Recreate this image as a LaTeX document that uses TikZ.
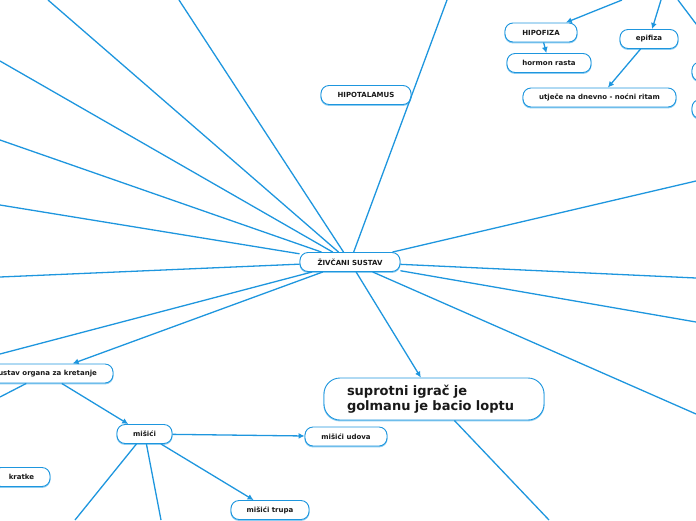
\documentclass[tikz,border=0pt]{standalone}
\usepackage{fontspec}
\setmainfont{DejaVu Sans}
\usetikzlibrary{arrows.meta}
\definecolor{mapblau}{RGB}{30,150,222}
\definecolor{hellblau}{RGB}{140,205,242}

\begin{document}
\begin{tikzpicture}[x=1pt, y=-1pt, >={Latex[length=6pt,width=6pt]}, % Pfeilspitzen
    knoten/.style={draw=mapblau, line width=0.9pt, fill=white, rounded corners=8pt,
      minimum height=19pt, inner sep=0pt, text=black!90,
      preaction={draw=hellblau, line width=1.2pt, transform canvas={yshift=-0.8pt}},
      font=\fontsize{7}{8}\selectfont\bfseries},
    gross/.style={knoten, rounded corners=16pt, minimum height=42pt, text width=174pt,
      align=left, font=\fontsize{13}{15}\selectfont\bfseries},
    ast/.style={draw=mapblau, line width=1.3pt}]
  \useasboundingbox (0,0) rectangle (696,520);
  \clip (0,0) rectangle (696,520);
  % Knoten
  \node[knoten, minimum width=100pt] (zs) at (350,262) {ŽIVČANI SUSTAV};
  \node[knoten, minimum width=90pt] (hipotal) at (366,95) {HIPOTALAMUS};
  \node[knoten, minimum width=72pt] (hipofiza) at (541,32.5) {HIPOFIZA};
  \node[knoten, minimum width=84pt] (hormon) at (549,63) {hormon rasta};
  \node[knoten, minimum width=58pt] (epifiza) at (649,39) {epifiza};
  \node[knoten, minimum width=153pt] (ritam) at (599.5,97.5) {utječe na dnevno - noćni ritam};
  \node[knoten, minimum width=80pt] (rechts1) at (732,71.5) {};
  \node[knoten, minimum width=80pt] (rechts2) at (732,109) {};
  \node[gross, minimum width=220pt] (golman) at (434,399) {suprotni igrač je\\golmanu je bacio loptu};
  \node[knoten, minimum width=135pt] (kretanje) at (45.5,373.5) {sustav organa za kretanje};
  \node[knoten, minimum width=55pt] (misici) at (144.5,434) {mišići};
  \node[knoten, minimum width=82pt] (udova) at (346,436.5) {mišići udova};
  \node[knoten, minimum width=78pt] (trupa) at (270,510) {mišići trupa};
  \node[knoten, minimum width=57pt] (kratke) at (21.5,477) {kratke};
  % freie Enden am Rand
  \coordinate (g1) at (179,0);
  \coordinate (g2) at (48,0);
  \coordinate (g3) at (0,61);
  \coordinate (g4) at (0,140);
  \coordinate (g5) at (0,205);
  \coordinate (g6) at (0,277);
  \coordinate (g7) at (0,354);
  \coordinate (g8) at (447,0);
  \coordinate (d1) at (696,181);
  \coordinate (d2) at (696,278);
  \coordinate (d3) at (696,322);
  \coordinate (d4) at (696,414);
  \coordinate (t1) at (622,0);
  \coordinate (t2) at (661,0);
  \coordinate (t3) at (678,0);
  \coordinate (u1) at (549,520);
  \coordinate (u2) at (0,397);
  \coordinate (u3) at (75,520);
  \coordinate (u4) at (161,520);
  % Verbindungen
  \foreach \z in {g1,g2,g3,g4,g5,g6,g7,g8,d1,d2,d3,d4}
    \draw[ast] (zs) -- (\z);
  \draw[ast, ->] (zs) -- (golman);
  \draw[ast, ->] (zs) -- (kretanje);
  \draw[ast, ->] (t1) -- (hipofiza);
  \draw[ast, ->] (t2) -- (epifiza);
  \draw[ast, ->] (t3) -- (rechts1);
  \draw[ast, ->] (hipofiza) -- (hormon);
  \draw[ast, ->] (epifiza) -- (ritam);
  \draw[ast] (golman) -- (u1);
  \draw[ast] (kretanje) -- (u2);
  \draw[ast, ->] (kretanje) -- (misici);
  \draw[ast, ->] (misici) -- (udova);
  \draw[ast, ->] (misici) -- (trupa);
  \draw[ast] (misici) -- (u3);
  \draw[ast] (misici) -- (u4);
\end{tikzpicture}
\end{document}
